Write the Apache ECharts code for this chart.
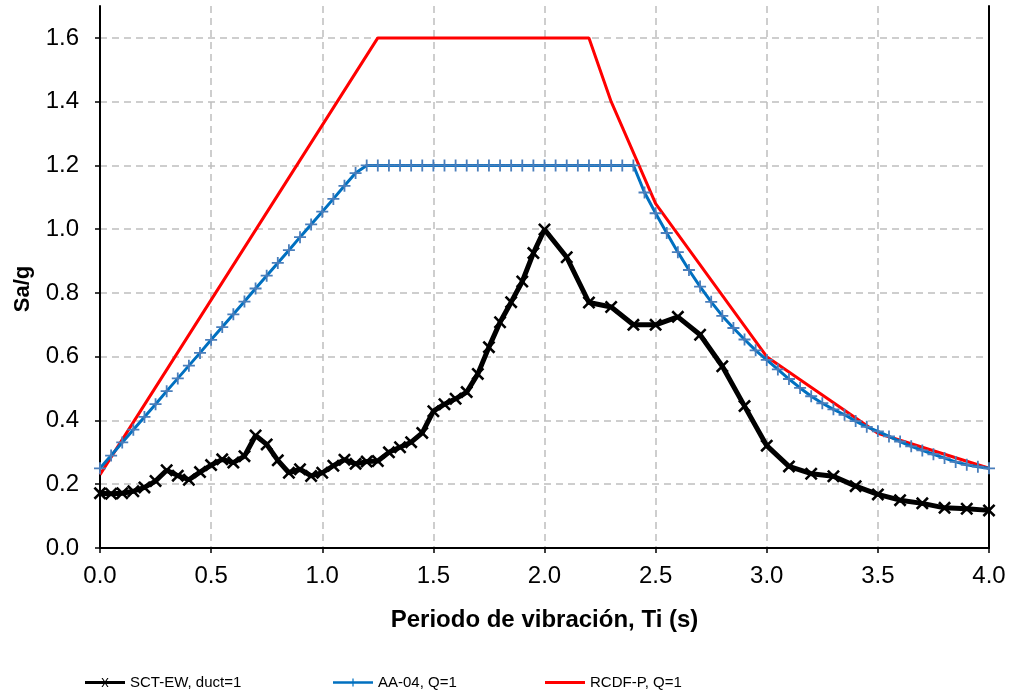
<!DOCTYPE html>
<html>
<head>
<meta charset="utf-8">
<script src="https://cdn.jsdelivr.net/npm/echarts@6/dist/echarts.min.js"></script>
<style>
html,body{margin:0;padding:0;background:#fff;}
#chart{width:1011px;height:696px;}
</style>
</head>
<body>
<div id="chart"></div>
<script>
// ---- Data ----
const xTickLabels = ['0.0','0.5','1.0','1.5','2.0','2.5','3.0','3.5','4.0'];
const yTickLabels = ['0.0','0.2','0.4','0.6','0.8','1.0','1.2','1.4','1.6'];

const seriesNames = ['SCT-EW, duct=1', 'AA-04, Q=1', 'RCDF-P, Q=1'];

// SCT-EW, duct=1
const sctT = [0, 0.05, 0.1, 0.15, 0.2, 0.25, 0.3, 0.35, 0.4, 0.45,
  0.5, 0.55, 0.6, 0.65, 0.7, 0.75, 0.8, 0.85, 0.9, 0.95,
  1.0, 1.05, 1.1, 1.15, 1.2, 1.25, 1.3, 1.35, 1.4, 1.45,
  1.5, 1.55, 1.6, 1.65, 1.7, 1.75, 1.8, 1.85, 1.9, 1.95,
  2.0, 2.1, 2.2, 2.3, 2.4, 2.5, 2.6, 2.7, 2.8, 2.9,
  3.0, 3.1, 3.2, 3.3, 3.4, 3.5, 3.6, 3.7, 3.8, 3.9, 4.0];
const sctSa = [0.172, 0.170, 0.172, 0.178, 0.190, 0.210, 0.244, 0.227, 0.214, 0.238,
  0.260, 0.278, 0.268, 0.288, 0.353, 0.325, 0.275, 0.236, 0.247, 0.226,
  0.236, 0.258, 0.277, 0.264, 0.271, 0.273, 0.300, 0.316, 0.332, 0.361,
  0.429, 0.451, 0.468, 0.489, 0.546, 0.630, 0.708, 0.771, 0.836, 0.925,
  0.999, 0.912, 0.770, 0.756, 0.700, 0.700, 0.725, 0.669, 0.570, 0.445,
  0.321, 0.256, 0.233, 0.225, 0.194, 0.168, 0.150, 0.140, 0.126, 0.123, 0.118];

// AA-04, Q=1
const aaT = [0, 0.05, 0.1, 0.15, 0.2, 0.25, 0.3, 0.35, 0.4, 0.45,
  0.5, 0.55, 0.6, 0.65, 0.7, 0.75, 0.8, 0.85, 0.9, 0.95,
  1.0, 1.05, 1.1, 1.15, 1.2, 1.25, 1.3, 1.35, 1.4, 1.45,
  1.5, 1.55, 1.6, 1.65, 1.7, 1.75, 1.8, 1.85, 1.9, 1.95,
  2.0, 2.05, 2.1, 2.15, 2.2, 2.25, 2.3, 2.35, 2.4, 2.45,
  2.5, 2.55, 2.6, 2.65, 2.7, 2.75, 2.8, 2.85, 2.9, 2.95,
  3.0, 3.05, 3.1, 3.15, 3.2, 3.25, 3.3, 3.35, 3.4, 3.45,
  3.5, 3.55, 3.6, 3.65, 3.7, 3.75, 3.8, 3.85, 3.9, 3.95, 4.0];
const aaSa = [0.250, 0.290, 0.331, 0.371, 0.411, 0.451, 0.492, 0.532, 0.572, 0.612,
  0.653, 0.693, 0.733, 0.773, 0.814, 0.854, 0.894, 0.934, 0.975, 1.015,
  1.055, 1.095, 1.136, 1.176, 1.200, 1.200, 1.200, 1.200, 1.200, 1.200,
  1.200, 1.200, 1.200, 1.200, 1.200, 1.200, 1.200, 1.200, 1.200, 1.200,
  1.200, 1.200, 1.200, 1.200, 1.200, 1.200, 1.200, 1.200, 1.200, 1.115,
  1.050, 0.988, 0.928, 0.872, 0.820, 0.772, 0.728, 0.690, 0.654, 0.620,
  0.590, 0.560, 0.530, 0.502, 0.476, 0.454, 0.435, 0.418, 0.398, 0.380,
  0.366, 0.350, 0.334, 0.319, 0.306, 0.294, 0.282, 0.270, 0.261, 0.255, 0.250];

// RCDF-P, Q=1
const rcdfT  = [0, 1.25, 2.2, 2.3, 2.5, 3.0, 3.5, 4.0];
const rcdfSa = [0.23, 1.6, 1.6, 1.4, 1.08, 0.6, 0.36, 0.25];

// ---- Chart ----
const zip = (a, b) => a.map((v, i) => [v, b[i]]);
const X_SYMBOL = 'path://M0,1.4L1.4,0L5,3.6L8.6,0L10,1.4L6.4,5L10,8.6L8.6,10L5,6.4L1.4,10L0,8.6L3.6,5Z';
const PLUS_SYMBOL = 'path://M4.25,0H5.75V4.25H10V5.75H5.75V10H4.25V5.75H0V4.25H4.25Z';
const FONT = '"Liberation Sans", Arial, sans-serif';
const ICON_BLACK = 'path://M0,4.5H40V7.5H0Z M16.5,1.5L17.7,1.5L20,5L22.3,1.5L23.5,1.5L20.6,6L23.5,10.5L22.3,10.5L20,7L17.7,10.5L16.5,10.5L19.4,6Z M0,0.01H0.01V0H0Z M40,12H39.99V11.99H40Z';
const ICON_BLUE = 'path://M0,4.8H40V7.2H0Z M19.4,2H20.6V10H19.4Z M0,0.01H0.01V0H0Z M40,12H39.99V11.99H40Z';
const ICON_RED = 'path://M0,4.6H40V7.4H0Z M0,0.01H0.01V0H0Z M40,12H39.99V11.99H40Z';

const chart = echarts.init(document.getElementById('chart'), null, {renderer: 'canvas'});
const gridLine = {show: true, showMaxLine: false, lineStyle: {color: '#bfbfbf', width: 1.5, type: [7, 5]}};
const legendText = {fontFamily: FONT, fontSize: 15, color: '#000'};
const legendBase = {bottom: 1, itemWidth: 40, itemHeight: 12, itemGap: 0, textStyle: legendText, padding: 5};

chart.setOption({
  backgroundColor: '#fff',
  animation: false,
  grid: {left: 100, right: 22, top: 6, bottom: 148, show: false},
  xAxis: {
    type: 'value', min: 0, max: 4, interval: 0.5,
    name: 'Periodo de vibración, Ti (s)', nameLocation: 'middle', nameGap: 60,
    nameTextStyle: {fontFamily: FONT, fontSize: 24, fontWeight: 'bold', color: '#000'},
    axisLine: {show: true, onZero: false, lineStyle: {color: '#000', width: 2}},
    axisTick: {show: true, inside: false, length: 5, lineStyle: {color: '#000', width: 1.5}},
    axisLabel: {fontFamily: FONT, fontSize: 24, color: '#000', margin: 16,
      formatter: v => xTickLabels[Math.round(v / 0.5)] ?? ''},
    splitLine: gridLine
  },
  yAxis: [{
    type: 'value', min: 0, max: 1.7, interval: 0.2,
    name: 'Sa/g', nameLocation: 'middle', nameGap: 66, nameRotate: 90,
    nameTextStyle: {fontFamily: FONT, fontSize: 22, fontWeight: 'bold', color: '#000', padding: [0, 24, 0, 0]},
    axisLine: {show: true, onZero: false, lineStyle: {color: '#000', width: 2}},
    axisTick: {show: true, inside: false, length: 5, lineStyle: {color: '#000', width: 1.5}},
    axisLabel: {fontFamily: FONT, fontSize: 24, color: '#000', margin: 21, showMaxLabel: false,
      formatter: v => { const i = Math.round(v / 0.2); return Math.abs(v - i * 0.2) < 1e-6 ? (yTickLabels[i] ?? '') : ''; }},
    splitLine: gridLine
  }, {
    type: 'value', min: 0, max: 1.7, position: 'right',
    axisLine: {show: true, onZero: false, lineStyle: {color: '#000', width: 2}},
    axisTick: {show: false}, axisLabel: {show: false}, splitLine: {show: false}
  }],
  legend: [
    Object.assign({data: [{name: seriesNames[0], icon: ICON_BLACK, itemStyle: {color: '#000'}}], left: 80}, legendBase),
    Object.assign({data: [{name: seriesNames[1], icon: ICON_BLUE, itemStyle: {color: '#0070c0'}}], left: 328}, legendBase),
    Object.assign({data: [{name: seriesNames[2], icon: ICON_RED, itemStyle: {color: '#ff0000'}}], left: 540}, legendBase)
  ],
  series: [
    {
      name: seriesNames[2], type: 'line', data: zip(rcdfT, rcdfSa), z: 3,
      symbol: 'none', lineStyle: {color: '#ff0000', width: 3}, itemStyle: {color: '#ff0000'}
    },
    {
      name: seriesNames[1], type: 'line', data: zip(aaT, aaSa), z: 4,
      symbol: PLUS_SYMBOL, symbolSize: 12, showAllSymbol: true,
      lineStyle: {color: '#0070c0', width: 3}, itemStyle: {color: '#4a7ebb'}
    },
    {
      name: seriesNames[0], type: 'line', data: zip(sctT, sctSa), z: 5,
      symbol: X_SYMBOL, symbolSize: 13, showAllSymbol: true,
      lineStyle: {color: '#000', width: 5}, itemStyle: {color: '#000'}
    }
  ]
});
</script>
</body>
</html>
